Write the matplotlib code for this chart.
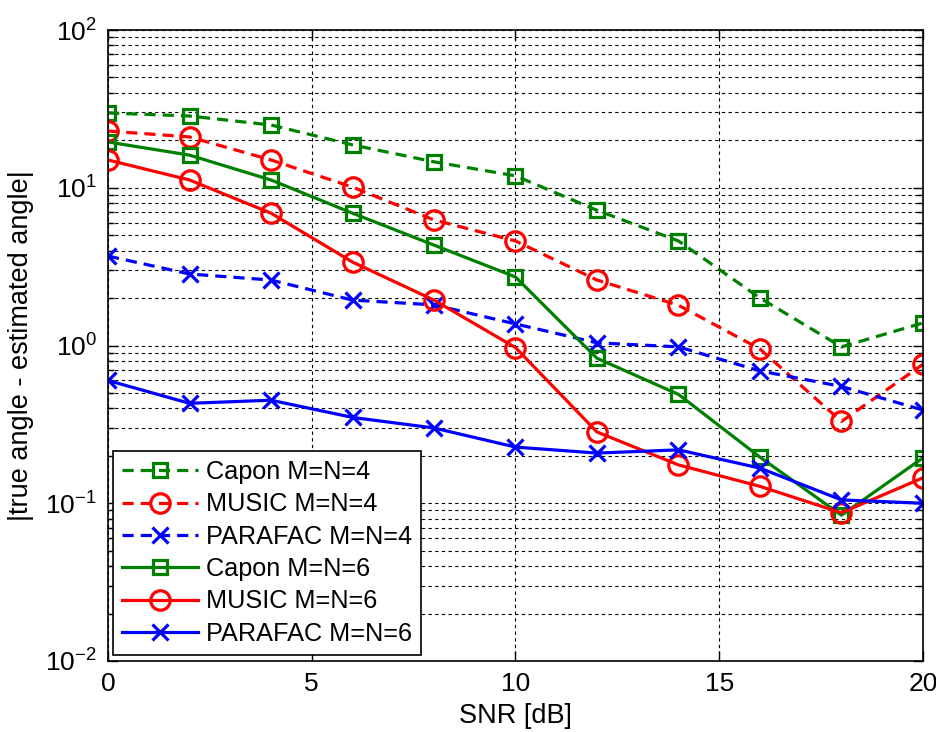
import matplotlib
matplotlib.use('Agg')
import matplotlib.pyplot as plt
from matplotlib.ticker import LogLocator, FixedLocator

plt.rcParams['font.family'] = ['Liberation Sans', 'DejaVu Sans']
plt.rcParams['mathtext.fontset'] = 'custom'
plt.rcParams['mathtext.rm'] = 'Liberation Sans'
plt.rcParams['mathtext.it'] = 'Liberation Sans'

# SNR axis
snr = [0, 2, 4, 6, 8, 10, 12, 14, 16, 18, 20]

# |true angle - estimated angle|
capon_4 = [29.8, 28.5, 25.0, 18.7, 14.6, 11.9, 7.2, 4.6, 2.0, 0.98, 1.39]
music_4 = [22.9, 21.0, 15.0, 10.1, 6.25, 4.6, 2.6, 1.8, 0.95, 0.33, 0.76]
parafac_4 = [3.69, 2.84, 2.6, 1.94, 1.81, 1.37, 1.04, 0.98, 0.69, 0.55, 0.39]
capon_6 = [19.5, 16.1, 11.2, 6.9, 4.33, 2.72, 0.83, 0.49, 0.196, 0.084, 0.194]
music_6 = [15.0, 11.2, 6.9, 3.38, 1.94, 0.97, 0.283, 0.175, 0.128, 0.087, 0.145]
parafac_6 = [0.60, 0.43, 0.45, 0.35, 0.30, 0.227, 0.208, 0.218, 0.167, 0.105, 0.10]

GREEN = '#008000'
RED = '#ff0000'
BLUE = '#0000ff'
dash = (0, (3.5, 2.2))

fig = plt.figure(figsize=(9.37, 7.32), dpi=100)
ax = fig.add_axes([0.1153, 0.097, 0.8697, 0.862])

common = dict(linewidth=2.3, markeredgewidth=2.3, markerfacecolor='none')
ax.plot(snr, capon_4, color=GREEN, linestyle=dash, marker='s', markersize=10,
        label='Capon M=N=4', **common)
ax.plot(snr, music_4, color=RED, linestyle=dash, marker='o', markersize=14,
        label='MUSIC M=N=4', **common)
ax.plot(snr, parafac_4, color=BLUE, linestyle=dash, marker='x', markersize=12,
        label='PARAFAC M=N=4', **common)
ax.plot(snr, capon_6, color=GREEN, linestyle='-', marker='s', markersize=10,
        label='Capon M=N=6', **common)
ax.plot(snr, music_6, color=RED, linestyle='-', marker='o', markersize=14,
        label='MUSIC M=N=6', **common)
ax.plot(snr, parafac_6, color=BLUE, linestyle='-', marker='x', markersize=12,
        label='PARAFAC M=N=6', **common)

ax.set_yscale('log')
ax.set_ylim(1e-2, 1e2)
ax.set_xlim(0, 20)
ax.xaxis.set_major_locator(FixedLocator([0, 5, 10, 15, 20]))
ax.yaxis.set_major_locator(LogLocator(base=10, numticks=10))
ax.yaxis.set_minor_locator(LogLocator(base=10, subs=range(2, 10), numticks=20))

grid_style = dict(color='black', linestyle=(0, (3, 3)), linewidth=0.8)
ax.grid(True, which='major', axis='both', **grid_style)
ax.grid(True, which='minor', axis='y', **grid_style)

ax.tick_params(which='both', direction='in', top=True, right=True,
               labelsize=19, width=1.0)
ax.tick_params(axis='x', pad=8)
ax.tick_params(axis='y', pad=8)
ax.tick_params(which='major', length=7)
ax.tick_params(which='minor', length=4)
for side in ax.spines.values():
    side.set_linewidth(1.2)

ax.set_xlabel('SNR [dB]', fontsize=19.5, labelpad=5)
ax.set_ylabel('|true angle - estimated angle|', fontsize=19.5, labelpad=8)

leg = ax.legend(loc='lower left', fontsize=18.2, fancybox=False, framealpha=1,
                edgecolor='black', handlelength=3.0, borderpad=0.35,
                labelspacing=0.33, handletextpad=0.35, borderaxespad=0,
                bbox_to_anchor=(0.006, 0.01))
leg.get_frame().set_linewidth(1.2)

fig.savefig('out.png', dpi=100)
plt.close(fig)
